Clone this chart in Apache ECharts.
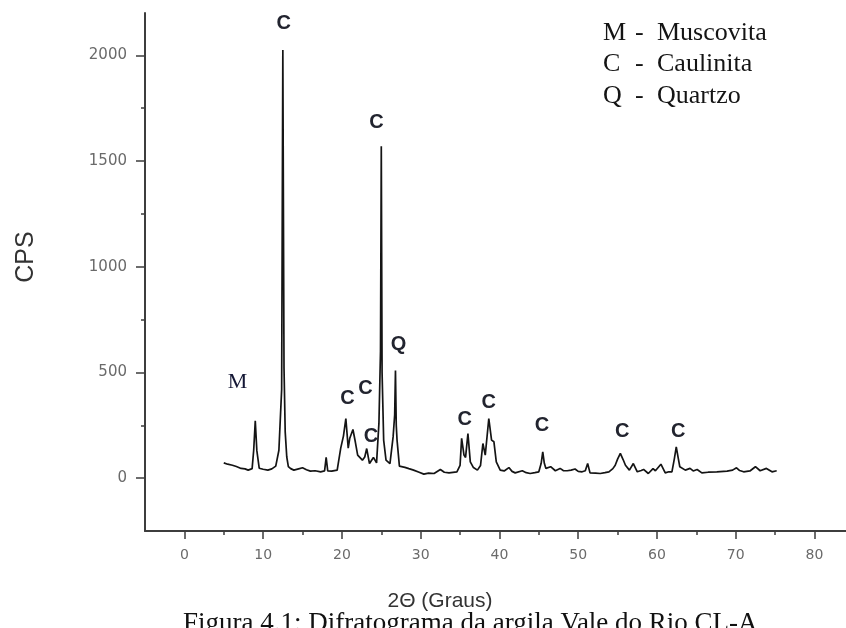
<!DOCTYPE html>
<html>
<head>
<meta charset="utf-8">
<script src="https://cdn.jsdelivr.net/npm/echarts@6/dist/echarts.min.js"></script>
<style>
html,body{margin:0;padding:0;background:#fff;}
#c{width:846px;height:628px;}
</style>
</head>
<body>
<div id="c"></div>
<script>
// ---- data ----
const twoTheta = [5.0,5.5,6.1,6.6,7.2,7.7,8.1,8.6,8.8,9.0,9.2,9.5,10.0,10.6,11.1,11.6,12.0,12.35,12.5,12.65,12.8,13.0,13.2,13.5,13.9,14.5,15.0,15.5,16.0,16.6,17.3,17.8,18.0,18.2,18.7,19.4,19.85,20.2,20.5,20.8,21.0,21.4,21.7,22.0,22.6,22.9,23.15,23.5,24.0,24.4,24.7,24.9,25.0,25.1,25.3,25.6,26.1,26.5,26.7,26.8,26.9,27.0,27.3,28.0,28.5,29.1,29.8,30.4,31.0,31.7,32.5,33.0,33.6,34.6,35.0,35.2,35.5,35.7,36.0,36.3,36.7,37.2,37.6,37.9,38.2,38.65,39.0,39.3,39.6,40.1,40.6,41.2,41.6,42.0,42.9,43.4,43.9,44.5,45.0,45.3,45.5,45.7,45.9,46.5,47.1,47.7,48.1,48.6,49.1,49.6,50.0,50.5,50.9,51.2,51.5,52.2,52.8,53.4,53.9,54.4,54.7,55.0,55.35,55.7,56.0,56.5,57.0,57.5,58.0,58.3,58.9,59.5,59.8,60.5,61.05,61.5,61.9,62.2,62.45,62.7,62.9,63.6,64.2,64.6,65.1,65.7,66.5,67.6,68.9,69.6,70.1,70.5,71.0,71.8,72.5,73.1,73.9,74.6,75.2];
const cps = [72,66,61,55,46,44,38,45,132,271,130,47,42,38,44,57,132,420,2025,520,219,100,55,45,38,44,49,40,33,35,30,34,98,34,33,38,142,200,282,142,189,230,172,109,85,100,140,69,98,72,260,600,1570,500,180,85,69,195,300,509,250,180,57,51,45,38,28,19,24,22,41,28,25,30,60,188,109,98,211,77,50,38,60,164,109,282,180,172,77,38,34,50,32,25,35,26,22,26,30,70,124,70,46,54,35,46,36,35,38,43,32,30,35,69,25,24,22,26,30,45,61,90,117,88,61,38,69,30,36,41,22,45,35,66,25,30,30,90,148,95,54,38,46,34,41,25,28,30,33,38,49,36,30,34,54,35,46,30,35];

// peak annotations (data coordinates)
const peakLabelText = ['C','C','Q','M','C','C','C','C','C','C','C','C'];
const peakLabelX    = [12.6, 24.4, 27.2, 6.75, 20.7, 23.0, 23.7, 35.6, 38.65, 45.4, 55.6, 62.7];
const peakLabelY    = [2151, 1683, 634, 455, 377, 424, 195, 277, 356, 251, 219, 219];

// axis ticks
const xMajorTicks = [0,10,20,30,40,50,60,70,80];
const xMinorTicks = [5,15,25,35,45,55,65,75];
const yMajorTicks = [0,500,1000,1500,2000];
const yMinorTicks = [250,750,1250,1750];

// legend text
const legendKeys  = ['M','C','Q'];
const legendNames = ['Muscovita','Caulinita','Quartzo'];

const xTitle = '2\u0398 (Graus)';
const yTitle = 'CPS';
const caption = 'Figura 4.1: Difratograma da argila Vale do Rio CL-A';

const chart = echarts.init(document.getElementById('c'), null, {renderer:'canvas'});

const lineData = twoTheta.map((x,i)=>[x,cps[i]]);
const labelData = peakLabelText.map((t,i)=>({
  value:[peakLabelX[i], peakLabelY[i]],
  name:t,
  label: t==='M'
    ? {fontFamily:'Liberation Serif', fontSize:22, color:'#141735', fontWeight:'normal', opacity:1}
    : {fontFamily:'Liberation Sans', fontSize:20, color:'#22242f', fontWeight:'bold', opacity:1}
}));

const axisColor = '#3d3d3d';
const xMin=-5, xMax=84, yMin=-250, yMax=2200;

const legendGraphics = [];
legendKeys.forEach((k,i)=>{
  const y = 34 + i*31.5;
  legendGraphics.push({type:'text', left:603, top:y-14, style:{text:k, font:'26px "Liberation Serif"', fill:'#141414'}});
  legendGraphics.push({type:'text', left:635, top:y-14, style:{text:'-', font:'26px "Liberation Serif"', fill:'#141414'}});
  legendGraphics.push({type:'text', left:657, top:y-14, style:{text:legendNames[i], font:'26px "Liberation Serif"', fill:'#141414'}});
});

chart.setOption({
  animation:false,
  backgroundColor:'#ffffff',
  grid:{left:145, right:0, top:13, bottom:97, containLabel:false, outerBoundsMode:'none'},
  xAxis:[
    {type:'value', min:xMin, max:xMax, interval:5, position:'bottom',
     axisLine:{show:true, onZero:false, lineStyle:{color:axisColor, width:2}},
     axisTick:{show:true, customValues:xMajorTicks, length:8, lineStyle:{color:axisColor, width:1.5}},
     axisLabel:{show:true, customValues:xMajorTicks, margin:17, fontFamily:'DejaVu Sans', fontSize:14, color:'#6a6a6a', formatter:v=>String(v)},
     splitLine:{show:false},
     name:xTitle, nameLocation:'middle', nameGap:60,
     nameTextStyle:{fontFamily:'Liberation Sans', fontSize:21, color:'#333', padding:[0,111,0,0]}},
    {type:'value', min:xMin, max:xMax, interval:5, position:'bottom',
     axisLine:{show:false, onZero:false},
     axisTick:{show:true, customValues:xMinorTicks, length:4, lineStyle:{color:axisColor, width:1.5}},
     axisLabel:{show:false}, splitLine:{show:false}}
  ],
  yAxis:[
    {type:'value', min:yMin, max:yMax, interval:250, position:'left',
     axisLine:{show:true, onZero:false, lineStyle:{color:axisColor, width:2}},
     axisTick:{show:true, customValues:yMajorTicks, length:9, lineStyle:{color:axisColor, width:1.5}},
     axisLabel:{show:true, customValues:yMajorTicks, margin:18, fontFamily:'DejaVu Sans', fontSize:15, color:'#6a6a6a', formatter:v=>String(v)},
     splitLine:{show:false},
     name:yTitle, nameLocation:'middle', nameGap:106, nameRotate:90,
     nameTextStyle:{fontFamily:'Liberation Sans', fontSize:25, color:'#333', padding:[0,0,0,30]}},
    {type:'value', min:yMin, max:yMax, interval:250, position:'left',
     axisLine:{show:false, onZero:false},
     axisTick:{show:true, customValues:yMinorTicks, length:4, lineStyle:{color:axisColor, width:1.5}},
     axisLabel:{show:false}, splitLine:{show:false}}
  ],
  series:[
    {type:'scatter', xAxisIndex:0, yAxisIndex:0, data:labelData, symbolSize:1,
     itemStyle:{color:'#ffffff', opacity:1}, silent:true, z:2,
     label:{show:true, position:'inside', formatter:p=>p.name}},
    {type:'line', xAxisIndex:0, yAxisIndex:0, data:lineData, showSymbol:false, symbol:'none',
     sampling:null, smooth:false, z:3,
     lineStyle:{color:'#141414', width:1.7}}
  ],
  graphic:[
    ...legendGraphics,
    {type:'text', left:183, top:610, style:{text:caption, font:'27px "Liberation Serif"', fill:'#111'}}
  ]
});
</script>
</body>
</html>
